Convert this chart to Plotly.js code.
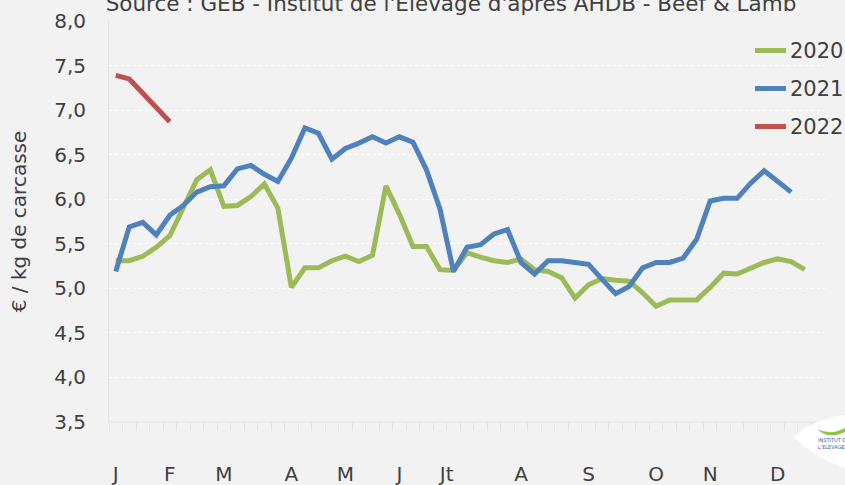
<!DOCTYPE html>
<html>
<head>
<meta charset="utf-8">
<script src="https://cdn.plot.ly/plotly-3.0.1.min.js"></script>
<style>html,body{margin:0;padding:0;background:#f2f2f2;}#chart{width:845px;height:485px;}</style>
</head>
<body>
<div id="chart"></div>
<script>
// Weekly prices, €/kg carcass (week index 0 = week 1)
var seriesNames = ["2020", "2021", "2022"];
var prices2020 = [5.31,5.31,5.36,5.46,5.59,5.92,6.22,6.33,5.92,5.93,
                  6.03,6.17,5.90,5.01,5.23,5.23,5.31,5.36,5.30,5.37,
                  6.15,5.83,5.47,5.47,5.21,5.20,5.40,5.35,5.31,5.29,
                  5.33,5.21,5.19,5.12,4.89,5.04,5.11,5.09,5.08,4.95,
                  4.80,4.87,4.87,4.87,5.01,5.17,5.16,5.23,5.29,5.33,
                  5.30,5.21];
var prices2021 = [5.19,5.69,5.74,5.60,5.82,5.93,6.08,6.14,6.15,6.34,
                  6.38,6.28,6.20,6.46,6.80,6.74,6.45,6.57,6.63,6.70,
                  6.63,6.70,6.64,6.33,5.89,5.19,5.46,5.49,5.61,5.66,
                  5.29,5.16,5.31,5.31,5.29,5.27,5.10,4.94,5.02,5.23,
                  5.29,5.29,5.34,5.55,5.98,6.01,6.01,6.18,6.32,6.20,
                  6.08];
var prices2022 = [7.39,7.35,7.19,7.03,6.87];
var monthLabels = ["J","F","M","A","M","J","Jt","A","S","O","N","D"];
var monthPositions = [0,4,8,13,17,21,24.5,30,35,40,44,49];
var colors = ["#9BBB59","#4F81BD","#C0504D"];

var FONT = "DejaVu Sans, sans-serif";
var TXT = "#404040";

var allSeries = [prices2020, prices2021, prices2022];
var traces = allSeries.map(function(vals, i){
  return {
    y: vals, x0: 0, dx: 1, type: "scatter", mode: "lines",
    name: seriesNames[i], showlegend: false,
    line: {color: colors[i], width: 5}
  };
});

// pixel -> paper helpers (plot area in pixels)
var L = 109, R = 825, T = 21, B = 422;
function px(x){ return (x - L) / (R - L); }
function py(y){ return (B - y) / (B - T); }

var shapes = [
  {type: "line", xref: "paper", yref: "paper", x0: 0, x1: 1, y0: 0, y1: 0, line: {color: "#e2e2e2", width: 1}},
  {type: "path", xref: "paper", yref: "paper", layer: "above",
   path: "M " + px(794) + "," + py(437) +
         " Q " + px(812) + "," + py(420) + " " + px(845) + "," + py(415) +
         " L " + px(845) + "," + py(468) +
         " Q " + px(812) + "," + py(456) + " " + px(794) + "," + py(437) + " Z",
   fillcolor: "#ffffff", line: {width: 0}},
  {type: "path", xref: "paper", yref: "paper", layer: "above",
   path: "M " + px(817) + "," + py(429) +
         " Q " + px(830) + "," + py(436) + " " + px(845) + "," + py(428) +
         " L " + px(845) + "," + py(432) +
         " Q " + px(828) + "," + py(440) + " " + px(817) + "," + py(429) + " Z",
   fillcolor: "#8DC63F", line: {width: 0}}
];
var annotations = [
  {text: "INSTITUT DE<br>L'ELEVAGE", xref: "paper", yref: "paper",
   x: px(816), y: py(444), xanchor: "left", yanchor: "middle", align: "left",
   showarrow: false, font: {family: "DejaVu Sans, sans-serif", size: 5, color: "#1F5FA8"}}
];

// manual legend (right side, overlapping the plot area like the original)
var legendTop = 50.5, legendStep = 38;
seriesNames.forEach(function(name, i){
  var yy = legendTop + i * legendStep;
  shapes.push({type: "line", xref: "paper", yref: "paper", layer: "above",
    x0: px(755), x1: px(786), y0: py(yy), y1: py(yy),
    line: {color: colors[i], width: 5}});
  annotations.push({text: name, xref: "paper", yref: "paper",
    x: px(788), y: py(yy), xanchor: "left", yanchor: "middle",
    showarrow: false, font: {family: FONT, size: 21, color: TXT}});
});

var layout = {
  width: 845, height: 485,
  paper_bgcolor: "#f2f2f2", plot_bgcolor: "#f2f2f2",
  margin: {l: L, r: 845 - R, t: T, b: 485 - B},
  separators: ", ",
  font: {family: FONT, color: TXT, size: 19},
  showlegend: false,
  title: {
    text: "Source : GEB - Institut de l'Elevage d'après AHDB - Beef & Lamb",
    font: {family: FONT, size: 21.5, color: TXT},
    x: 451/845, xanchor: "center", xref: "container",
    y: 1 - 3/485, yanchor: "middle", yref: "container"
  },
  xaxis: {
    range: [-0.5, 52.5], showgrid: false, zeroline: false,
    showline: false, automargin: false,
    tickmode: "array", tickvals: monthPositions, ticktext: monthLabels,
    ticks: "", ticklabelstandoff: 38,
    tickfont: {family: FONT, size: 20, color: TXT},
    minor: {ticks: "outside", tick0: -0.5, dtick: 1, ticklen: 8, tickcolor: "#e2e2e2", tickwidth: 1, showgrid: false}
  },
  yaxis: {
    range: [3.5, 8.0], dtick: 0.5, tick0: 3.5, tickformat: ".1f", automargin: false,
    showgrid: true, gridcolor: "#ffffff", griddash: "dot", gridwidth: 1,
    zeroline: false, showline: true, linecolor: "#e2e2e2", linewidth: 1,
    ticks: "", ticklabelstandoff: 18,
    tickfont: {family: FONT, size: 20, color: TXT},
    title: {text: "€ / kg de carcasse", font: {family: FONT, size: 20, color: TXT}, standoff: 22}
  },
  shapes: shapes,
  annotations: annotations
};

Plotly.newPlot("chart", traces, layout, {displayModeBar: false, staticPlot: true});
</script>
</body>
</html>
